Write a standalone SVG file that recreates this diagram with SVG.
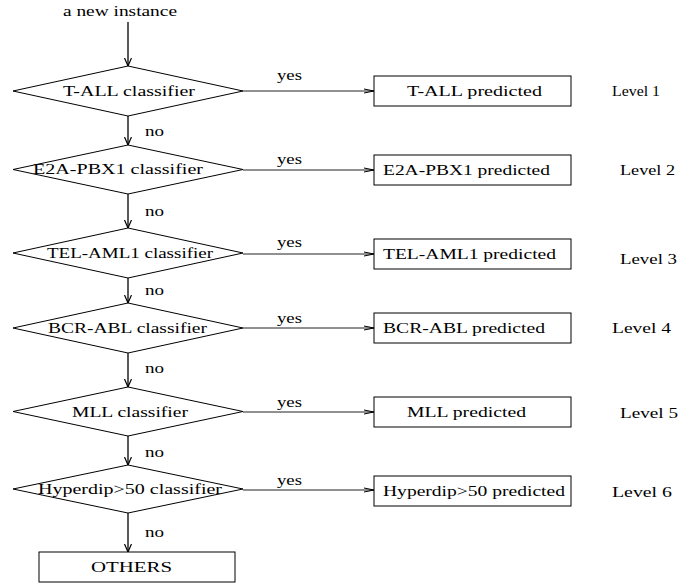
<svg xmlns="http://www.w3.org/2000/svg" width="680" height="583" viewBox="0 0 680 583">
<defs>
<style>
text{font-family:"Liberation Serif","Times New Roman",serif;font-size:14px;fill:#000}
.c{text-anchor:middle}
.shape{fill:#fff;stroke:#000;stroke-width:1}
.v{stroke:#000;stroke-width:1.3;fill:none}
.h{stroke:#222;stroke-width:1;fill:none}
</style>
<marker id="av" markerUnits="userSpaceOnUse" markerWidth="10" markerHeight="10" refX="8" refY="4" orient="auto">
<path d="M0,0.5 L8,4 L0,7.5" fill="none" stroke="#000" stroke-width="1.2"/>
</marker>
<marker id="ah" markerUnits="userSpaceOnUse" markerWidth="12" markerHeight="6" refX="10" refY="3" orient="auto">
<path d="M0,1 L10,3 L0,5" fill="none" stroke="#000" stroke-width="1"/>
</marker>
</defs>
<rect width="680" height="583" fill="#fff"/>

<text x="63" y="16" textLength="114" lengthAdjust="spacingAndGlyphs">a new instance</text>

<g id="connectors">
<line class="v" x1="128" y1="22" x2="128" y2="66" marker-end="url(#av)"/>
<line class="v" x1="128" y1="116" x2="128" y2="145" marker-end="url(#av)"/>
<line class="v" x1="128" y1="194" x2="128" y2="228" marker-end="url(#av)"/>
<line class="v" x1="128" y1="278" x2="128" y2="303" marker-end="url(#av)"/>
<line class="v" x1="128" y1="353" x2="128" y2="387" marker-end="url(#av)"/>
<line class="v" x1="128" y1="436" x2="128" y2="465" marker-end="url(#av)"/>
<line class="v" x1="128" y1="513" x2="128" y2="552" marker-end="url(#av)"/>
<line class="h" x1="243" y1="91" x2="374" y2="91" marker-end="url(#ah)"/>
<line class="h" x1="243" y1="170" x2="374" y2="170" marker-end="url(#ah)"/>
<line class="h" x1="243" y1="254" x2="374" y2="254" marker-end="url(#ah)"/>
<line class="h" x1="243" y1="328" x2="374" y2="328" marker-end="url(#ah)"/>
<line class="h" x1="243" y1="412" x2="374" y2="412" marker-end="url(#ah)"/>
<line class="h" x1="243" y1="490" x2="374" y2="490" marker-end="url(#ah)"/>
<text x="277" y="80" textLength="25" lengthAdjust="spacingAndGlyphs">yes</text>
<text x="277" y="164" textLength="25" lengthAdjust="spacingAndGlyphs">yes</text>
<text x="277" y="247" textLength="25" lengthAdjust="spacingAndGlyphs">yes</text>
<text x="277" y="323" textLength="25" lengthAdjust="spacingAndGlyphs">yes</text>
<text x="277" y="407" textLength="25" lengthAdjust="spacingAndGlyphs">yes</text>
<text x="277" y="485" textLength="25" lengthAdjust="spacingAndGlyphs">yes</text>
<text x="145" y="136" textLength="19" lengthAdjust="spacingAndGlyphs">no</text>
<text x="145" y="216" textLength="19" lengthAdjust="spacingAndGlyphs">no</text>
<text x="145" y="295" textLength="19" lengthAdjust="spacingAndGlyphs">no</text>
<text x="145" y="373" textLength="19" lengthAdjust="spacingAndGlyphs">no</text>
<text x="145" y="457" textLength="19" lengthAdjust="spacingAndGlyphs">no</text>
<text x="145" y="537" textLength="19" lengthAdjust="spacingAndGlyphs">no</text>
</g>

<g id="d1"><path class="shape" d="M13,91 L128,66 L243,91 L128,116 Z"/><text x="63" y="96" textLength="132" lengthAdjust="spacingAndGlyphs">T-ALL classifier</text></g>
<g id="d2"><path class="shape" d="M13,169.5 L128,145 L243,169.5 L128,194 Z"/><text x="33" y="174" textLength="170" lengthAdjust="spacingAndGlyphs">E2A-PBX1 classifier</text></g>
<g id="d3"><path class="shape" d="M13,253 L128,228 L243,253 L128,278 Z"/><text x="47" y="258" textLength="166" lengthAdjust="spacingAndGlyphs">TEL-AML1 classifier</text></g>
<g id="d4"><path class="shape" d="M13,328 L128,303 L243,328 L128,353 Z"/><text x="48" y="333" textLength="159" lengthAdjust="spacingAndGlyphs">BCR-ABL classifier</text></g>
<g id="d5"><path class="shape" d="M13,411.5 L128,387 L243,411.5 L128,436 Z"/><text x="72" y="417" textLength="116" lengthAdjust="spacingAndGlyphs">MLL classifier</text></g>
<g id="d6"><path class="shape" d="M13,489 L128,465 L243,489 L128,513 Z"/><text x="38" y="494" textLength="184" lengthAdjust="spacingAndGlyphs">Hyperdip&gt;50 classifier</text></g>

<g id="b1"><rect class="shape" x="374" y="76" width="197" height="30"/><text x="407" y="96" textLength="135" lengthAdjust="spacingAndGlyphs">T-ALL predicted</text></g>
<g id="b2"><rect class="shape" x="374" y="155" width="197" height="30"/><text x="383" y="175" textLength="167" lengthAdjust="spacingAndGlyphs">E2A-PBX1 predicted</text></g>
<g id="b3"><rect class="shape" x="374" y="239" width="197" height="30"/><text x="383" y="259" textLength="173" lengthAdjust="spacingAndGlyphs">TEL-AML1 predicted</text></g>
<g id="b4"><rect class="shape" x="374" y="313" width="197" height="30"/><text x="383" y="333" textLength="162" lengthAdjust="spacingAndGlyphs">BCR-ABL predicted</text></g>
<g id="b5"><rect class="shape" x="374" y="397" width="197" height="30"/><text x="407" y="417" textLength="119" lengthAdjust="spacingAndGlyphs">MLL predicted</text></g>
<g id="b6"><rect class="shape" x="374" y="476" width="197" height="30"/><text x="383" y="496" textLength="182" lengthAdjust="spacingAndGlyphs">Hyperdip&gt;50 predicted</text></g>
<g id="others"><rect class="shape" x="39" y="552" width="196" height="30"/><text x="91" y="572" textLength="81" lengthAdjust="spacingAndGlyphs">OTHERS</text></g>

<g id="levels">
<text x="612" y="96" textLength="48" lengthAdjust="spacingAndGlyphs">Level 1</text>
<text x="620" y="175" textLength="55" lengthAdjust="spacingAndGlyphs">Level 2</text>
<text x="620" y="264" textLength="57" lengthAdjust="spacingAndGlyphs">Level 3</text>
<text x="612" y="333" textLength="59" lengthAdjust="spacingAndGlyphs">Level 4</text>
<text x="620" y="418" textLength="58" lengthAdjust="spacingAndGlyphs">Level 5</text>
<text x="612" y="497" textLength="60" lengthAdjust="spacingAndGlyphs">Level 6</text>
</g>
</svg>
